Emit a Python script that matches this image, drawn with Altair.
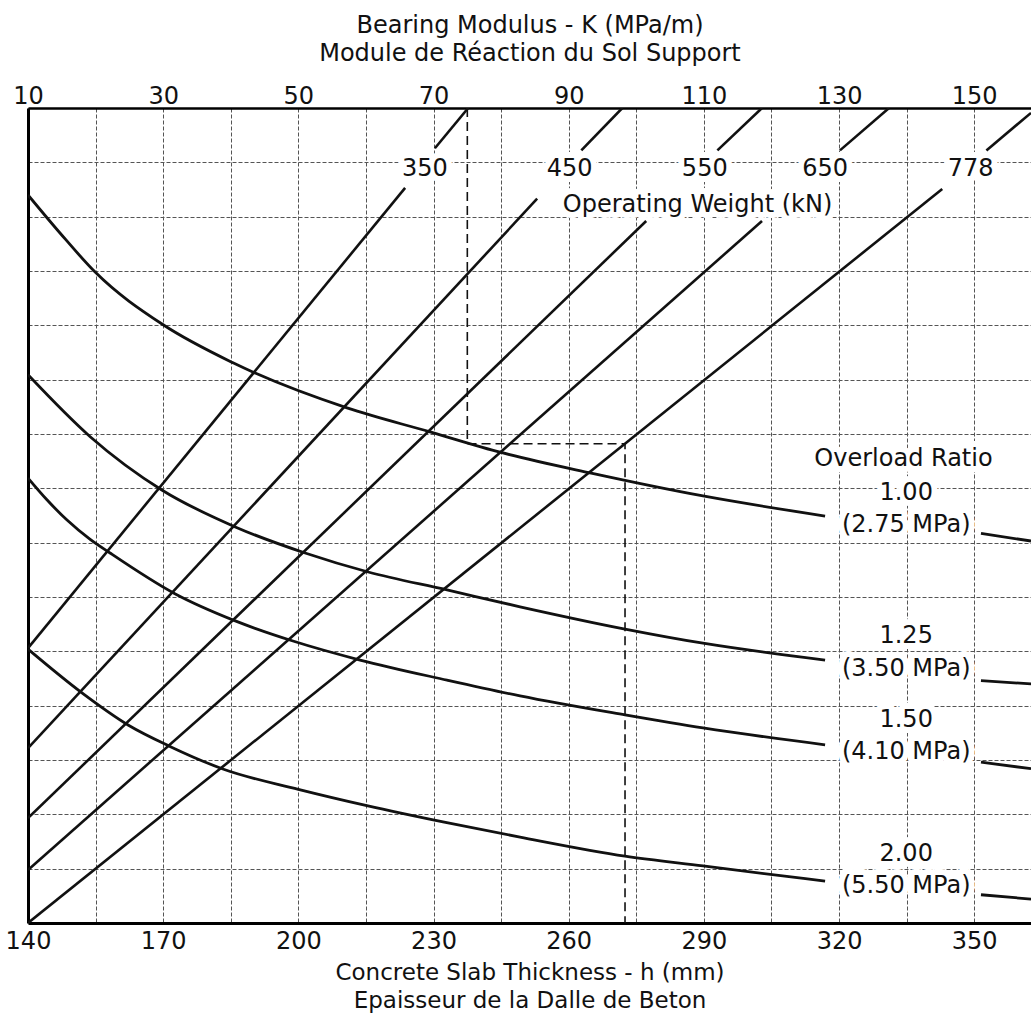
import altair as alt
import pandas as pd

# ---------------- axes ----------------
H_DOMAIN = [140, 362.6]          # concrete slab thickness h (mm) visible
Y_DOMAIN = [0, 15]               # unlabelled chart rows
H_GRID = [140, 155, 170, 185, 200, 215, 230, 245, 260, 275, 290, 305, 320, 335, 350]
H_TICK_LABELS = [140, 170, 200, 230, 260, 290, 320, 350]
K_TICK_LABELS = [10, 30, 50, 70, 90, 110, 130, 150]
Y_GRID = list(range(0, 16))

# ---------------- overload ratio curves (main part, right tail) ----------------
C100_H = [140, 147.1, 154.9, 170.0, 185.5, 210.8, 229.2, 245.0, 265.0, 289.8, 316.9]
C100_Y = [13.40, 12.70, 11.98, 11.01, 10.31, 9.48, 9.04, 8.66, 8.28, 7.86, 7.49]
C100_TAIL_H = [351.5, 362.6]
C100_TAIL_Y = [7.17, 7.03]

C125_H = [140, 153.8, 169.7, 186.0, 201.5, 215.5, 233.0, 249.2, 272.5, 289.8, 316.9]
C125_Y = [10.09, 8.95, 7.97, 7.29, 6.81, 6.46, 6.13, 5.82, 5.41, 5.15, 4.84]
C125_TAIL_H = [351.5, 362.6]
C125_TAIL_Y = [4.46, 4.40]

C150_H = [140, 144.2, 148.6, 153.8, 158.2, 172.6, 186.0, 198.8, 213.7, 233.0, 249.2, 272.5, 289.8, 316.9]
C150_Y = [8.19, 7.79, 7.42, 7.06, 6.81, 6.06, 5.56, 5.19, 4.84, 4.47, 4.18, 3.83, 3.59, 3.28]
C150_TAIL_H = [351.5, 362.6]
C150_TAIL_Y = [2.96, 2.84]

C200_H = [140, 151.9, 162.3, 171.5, 183.4, 200.0, 215.2, 232.1, 249.2, 272.5, 289.8, 316.9]
C200_Y = [5.04, 4.24, 3.64, 3.25, 2.83, 2.46, 2.16, 1.86, 1.58, 1.23, 1.05, 0.77]
C200_TAIL_H = [351.5, 362.6]
C200_TAIL_Y = [0.52, 0.44]

# ---------------- operating weight lines (main part, top part) ----------------
W350_H = [140, 223.7]; W350_Y = [5.06, 13.53]
W350_TOP_H = [230.3, 237.7]; W350_TOP_Y = [14.26, 15.0]
W450_H = [140, 253.0]; W450_Y = [3.22, 13.33]
W450_TOP_H = [262.8, 271.9]; W450_TOP_Y = [14.22, 15.0]
W550_H = [140, 277.2]; W550_Y = [1.93, 12.92]
W550_TOP_H = [293.0, 302.9]; W550_TOP_Y = [14.22, 15.0]
W650_H = [140, 302.9]; W650_Y = [0.975, 12.92]
W650_TOP_H = [320.2, 331.1]; W650_TOP_Y = [14.22, 15.0]
W778_H = [140, 342.9]; W778_Y = [0.0, 13.51]
W778_TOP_H = [352.7, 362.6]; W778_TOP_Y = [14.22, 14.91]

# ---------------- worked example (dashed) ----------------
EX_H = [237.5, 237.5, 272.5, 272.5]
EX_Y = [15.0, 8.82, 8.82, 0.0]

# ---------------- labels ----------------
WEIGHT_LABELS = ["350", "450", "550", "650", "778"]
WEIGHT_LABEL_H = [228.1, 260.2, 290.2, 316.9, 349.2]
WEIGHT_LABEL_Y = [13.88, 13.88, 13.88, 13.88, 13.88]
WEIGHT_TITLE = ["Operating Weight (kN)"]
WEIGHT_TITLE_H = [288.6]
WEIGHT_TITLE_Y = [13.21]

OVERLOAD_TEXT = ["Overload Ratio", "1.00", "(2.75 MPa)", "1.25", "(3.50 MPa)",
                 "1.50", "(4.10 MPa)", "2.00", "(5.50 MPa)"]
OVERLOAD_H = [334.3, 334.9, 334.9, 334.9, 334.9, 334.9, 334.9, 334.9, 334.9]
OVERLOAD_Y = [8.54, 7.92, 7.33, 5.28, 4.67, 3.74, 3.15, 1.27, 0.68]

TOP_TITLE = ["Bearing Modulus - K (MPa/m)", "Module de Réaction du Sol Support"]
BOTTOM_TITLE = ["Concrete Slab Thickness - h (mm)", "Epaisseur de la Dalle de Beton"]

# K relates linearly to h on this chart: K 10..150 spans h 140..350
K_DOMAIN = [10 + (H_DOMAIN[0] - 140) * 2 / 3, 10 + (H_DOMAIN[1] - 140) * 2 / 3]

FONT = "DejaVu Sans"
FS = 24
INK = "#111111"


def seg(hs, ys, key):
    return pd.DataFrame({"h": hs, "y": ys, "key": key})


curves = pd.concat([
    seg(C100_H, C100_Y, "c100a"), seg(C100_TAIL_H, C100_TAIL_Y, "c100b"),
    seg(C125_H, C125_Y, "c125a"), seg(C125_TAIL_H, C125_TAIL_Y, "c125b"),
    seg(C150_H, C150_Y, "c150a"), seg(C150_TAIL_H, C150_TAIL_Y, "c150b"),
    seg(C200_H, C200_Y, "c200a"), seg(C200_TAIL_H, C200_TAIL_Y, "c200b"),
])
weights = pd.concat([
    seg(W350_H, W350_Y, "w350a"), seg(W350_TOP_H, W350_TOP_Y, "w350b"),
    seg(W450_H, W450_Y, "w450a"), seg(W450_TOP_H, W450_TOP_Y, "w450b"),
    seg(W550_H, W550_Y, "w550a"), seg(W550_TOP_H, W550_TOP_Y, "w550b"),
    seg(W650_H, W650_Y, "w650a"), seg(W650_TOP_H, W650_TOP_Y, "w650b"),
    seg(W778_H, W778_Y, "w778a"), seg(W778_TOP_H, W778_TOP_Y, "w778b"),
])
example = pd.DataFrame({"h": EX_H, "y": EX_Y, "order": list(range(len(EX_H)))})
labels = pd.concat([
    pd.DataFrame({"h": WEIGHT_LABEL_H, "y": WEIGHT_LABEL_Y, "t": WEIGHT_LABELS}),
    pd.DataFrame({"h": WEIGHT_TITLE_H, "y": WEIGHT_TITLE_Y, "t": WEIGHT_TITLE}),
    pd.DataFrame({"h": OVERLOAD_H, "y": OVERLOAD_Y, "t": OVERLOAD_TEXT}),
])
ktab = pd.DataFrame({"K": K_TICK_LABELS})

label_expr = f"indexof({H_TICK_LABELS}, datum.value) >= 0 ? format(datum.value, 'd') : ''"

x_axis = alt.Axis(
    orient="bottom", values=H_GRID, labelExpr=label_expr, labelFlush=False,
    labelOverlap=False, ticks=False, tickSize=0, labelPadding=6,
    labelFont=FONT, labelFontSize=FS, labelColor=INK,
    title=BOTTOM_TITLE, titleFont=FONT, titleFontSize=23, titleFontWeight="normal",
    titleColor=INK, titleY=56, titleBaseline="alphabetic", titleLineHeight=28,
    grid=True, gridColor="#555555", gridDash=[4, 2], gridWidth=1,
    domainColor="#000000", domainWidth=3,
)
y_axis = alt.Axis(
    orient="left", values=Y_GRID, labels=False, ticks=False, tickSize=0, title=None,
    grid=True, gridColor="#555555", gridDash=[4, 2], gridWidth=1,
    domainColor="#000000", domainWidth=3,
)
k_axis = alt.Axis(
    orient="top", values=K_TICK_LABELS, labelFlush=False, labelOverlap=False,
    ticks=False, tickSize=0, labelPadding=5, labelBaseline="alphabetic",
    labelFont=FONT, labelFontSize=FS, labelColor=INK,
    title=TOP_TITLE, titleFont=FONT, titleFontSize=FS, titleFontWeight="normal",
    titleColor=INK, titleY=-76, titleBaseline="alphabetic", titleLineHeight=28,
    grid=False, domainColor="#000000", domainWidth=2.5,
)

X = alt.X("h:Q", scale=alt.Scale(domain=H_DOMAIN, nice=False, zero=False), axis=x_axis)
Y = alt.Y("y:Q", scale=alt.Scale(domain=Y_DOMAIN, nice=False, zero=False), axis=y_axis)

halo = alt.Chart(labels).mark_text(
    font=FONT, fontSize=FS, align="center", baseline="middle",
    color="white", stroke="white", strokeWidth=12, strokeJoin="round",
).encode(x=X, y=Y, text="t:N")

ex_layer = alt.Chart(example).mark_line(
    color=INK, strokeWidth=1.6, strokeDash=[9, 5], clip=True
).encode(x=X, y=Y, order="order:Q")

w_layer = alt.Chart(weights).mark_line(
    color=INK, strokeWidth=2.6, clip=True
).encode(x=X, y=Y, detail="key:N")

c_layer = alt.Chart(curves).mark_line(
    color=INK, strokeWidth=2.8, interpolate="monotone", clip=True
).encode(x=X, y=Y, detail="key:N")

text = alt.Chart(labels).mark_text(
    font=FONT, fontSize=FS, align="center", baseline="middle", color=INK,
).encode(x=X, y=Y, text="t:N")

main = alt.layer(halo, ex_layer, w_layer, c_layer, text)

k_layer = alt.Chart(ktab).mark_point(opacity=0).encode(
    x=alt.X("K:Q", scale=alt.Scale(domain=K_DOMAIN, nice=False, zero=False), axis=k_axis)
)

chart = alt.layer(main, k_layer).resolve_scale(x="independent").properties(
    width=1003, height=815,
    padding={"left": 28, "top": 108, "right": 0, "bottom": 90},
    autosize=alt.AutoSizeParams(type="none"),
    background="white",
).configure_view(stroke=None)

chart.save("out.html", embed_options={"renderer": "svg", "actions": False})
